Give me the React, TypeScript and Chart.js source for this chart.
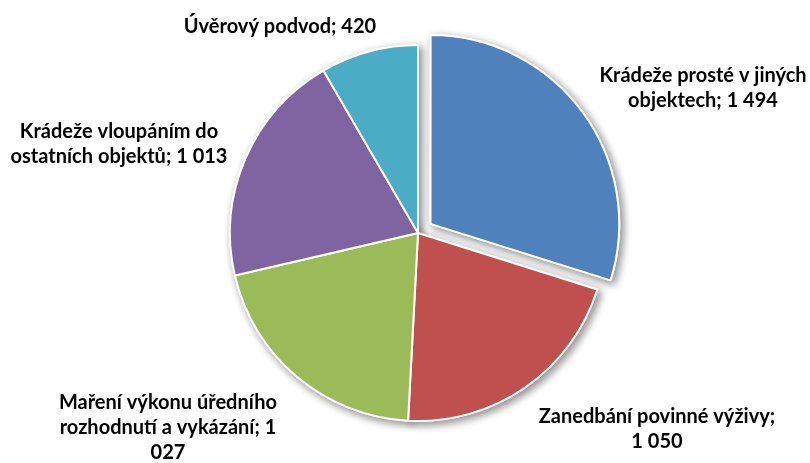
import React, { useEffect, useRef } from "react";
import { Chart, registerables } from "chart.js";

Chart.register(...registerables);

const categories = [
  "Krádeže prosté v jiných objektech",
  "Zanedbání povinné výživy",
  "Maření výkonu úředního rozhodnutí a vykázání",
  "Krádeže vloupáním do ostatních objektů",
  "Úvěrový podvod",
];
const values = [1494, 1050, 1027, 1013, 420];
const labelLines = [
  ["Krádeže prosté v jiných", "objektech; 1 494"],
  ["Zanedbání povinné výživy;", "1 050"],
  ["Maření výkonu úředního", "rozhodnutí a vykázání; 1", "027"],
  ["Krádeže vloupáním do", "ostatních objektů; 1 013"],
  ["Úvěrový podvod; 420"],
];
const colors = ["#4F81BD", "#C0504D", "#9BBB59", "#8064A2", "#4BACC6"];
const offsets = [62, 0, 0, 0, 0];

// label placement relative to the pie centre (layout only)
const labelAnchors = [
  [285, -151],
  [239, 190],
  [-250, 176],
  [-299, -95],
  [-138, -200],
];

const shadowPlugin = {
  id: "pieShadow",
  beforeDatasetsDraw(chart: any) {
    const ctx = chart.ctx;
    const meta = chart.getDatasetMeta(0);
    ctx.save();
    ctx.shadowColor = "rgba(0,0,0,0.45)";
    ctx.shadowBlur = 8;
    ctx.shadowOffsetX = 3;
    ctx.shadowOffsetY = 3;
    meta.data.forEach((el: any) => el.draw(ctx));
    ctx.restore();
  },
};

const labelPlugin = {
  id: "pieLabels",
  afterDraw(chart: any) {
    const ctx = chart.ctx;
    const meta = chart.getDatasetMeta(0);
    const arc0 = meta.data[0];
    const cx = arc0.x;
    const cy = arc0.y;
    ctx.save();
    ctx.fillStyle = "#000000";
    ctx.font = "bold 20px Lato";
    ctx.textAlign = "center";
    ctx.textBaseline = "alphabetic";
    labelLines.forEach((lines, i) => {
      const [dx, dy] = labelAnchors[i];
      lines.forEach((line, j) => {
        ctx.fillText(line, cx + dx, cy + dy + j * 25);
      });
    });
    ctx.restore();
  },
};

export default function App() {
  const ref = useRef<HTMLCanvasElement | null>(null);
  useEffect(() => {
    document.body.style.margin = "0";
    const chart = new Chart(ref.current as HTMLCanvasElement, {
      type: "pie",
      data: {
        labels: categories,
        datasets: [
          {
            data: values,
            backgroundColor: colors,
            borderColor: "#FFFFFF",
            borderWidth: 2,
            offset: offsets,
            hoverOffset: 0,
          },
        ],
      },
      options: {
        responsive: false,
        animation: false,
        radius: 188,
        layout: { padding: { left: 26, right: 0, top: 3, bottom: 0 } },
        plugins: {
          legend: { display: false },
          tooltip: { enabled: false },
        },
        events: [],
      } as any,
      plugins: [shadowPlugin, labelPlugin],
    });
    return () => chart.destroy();
  }, []);
  return (
    <div style={{ width: 810, height: 463, background: "#fff" }}>
      <canvas ref={ref} width={810} height={463} />
    </div>
  );
}
